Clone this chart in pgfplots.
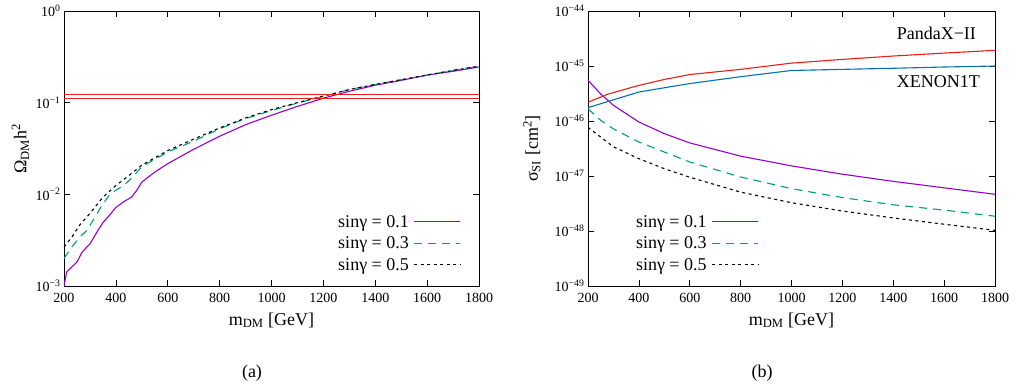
\documentclass[border=0pt]{standalone}
\usepackage{fontspec}
\setmainfont{Liberation Serif}
\usepackage{pgfplots}
\pgfplotsset{compat=1.18}
\definecolor{cpurple}{RGB}{148,0,211}
\definecolor{cgreen}{RGB}{0,158,115}
\definecolor{cred}{RGB}{232,30,25}
\definecolor{cblue}{RGB}{0,114,178}
\pgfplotsset{
  every axis/.append style={
    scale only axis,
    ymode=log, log basis y=10,
    xmin=200, xmax=1800,
    xtick={200,400,...,1800},
    tick label style={font=\fontsize{14}{16}\selectfont},
    label style={font=\fontsize{18}{20}\selectfont},
    /pgf/number format/assume math mode=true,
    /pgf/number format/1000 sep={},
    xticklabel style={yshift=-4pt},
    tick style={black, line width=0.6pt},
    major tick length=6pt, minor tick length=3pt,
    axis line style={line width=0.8pt},
    legend plot pos=right,
    legend cell align=right,
    legend style={draw=none, fill=none, font=\fontsize{18}{20}\selectfont,
      row sep=8pt, inner sep=0pt,
      nodes={inner xsep=5pt, inner ysep=0pt}},
    legend image code/.code={\draw[#1] (3pt,0pt) -- (49pt,0pt);},
  },
}
\begin{document}
\begin{tikzpicture}
\path[use as bounding box] (0pt,0pt) rectangle (1021pt,388pt);
% ---------------- (a) ----------------
\begin{axis}[
  at={(64pt,102pt)}, anchor=south west,
  width=415pt, height=275pt,
  ymin=1e-3, ymax=1,
  ytick={1e-3,1e-2,1e-1,1},
  yticklabels={10\textsuperscript{−3},10\textsuperscript{−2},10\textsuperscript{−1},10\textsuperscript{0}},
  xlabel={m\textsubscript{DM} [GeV]},
  ylabel={Ω\textsubscript{DM}h\textsuperscript{2}},
  xlabel style={at={(axis description cs:0.5,-0.125)}, anchor=center},
  ylabel style={at={(axis description cs:-0.105,0.5)}, anchor=center},
  legend style={at={(axis description cs:0.957,0.155)}, anchor=east},
]
\addplot[cpurple, line width=1.1pt] coordinates {
(200,1.0e-3) (210,1.42e-3) (250,1.83e-3) (270,2.35e-3) (300,2.88e-3) (330,4.0e-3)
(350,4.9e-3) (375,5.9e-3) (400,7.2e-3) (430,8.3e-3) (460,9.3e-3) (480,1.1e-2)
(500,1.36e-2) (550,1.75e-2) (600,2.16e-2) (700,3.1e-2) (800,4.3e-2) (900,5.75e-2)
(1000,7.3e-2) (1100,9.1e-2) (1200,0.112) (1300,0.133) (1400,0.155) (1500,0.175)
(1600,0.2) (1700,0.22) (1800,0.245)};
\addlegendentry{sinγ = 0.1}
\addplot[cgreen, line width=1.1pt, dash pattern=on 8pt off 6pt] coordinates {
(200,2.0e-3) (230,2.66e-3) (260,3.4e-3) (290,4.1e-3) (320,5.7e-3) (350,7.9e-3)
(380,1.02e-2) (420,1.2e-2) (450,1.4e-2) (500,2.0e-2) (600,2.9e-2) (700,3.8e-2)
(800,5.2e-2) (900,6.7e-2) (1000,8.2e-2) (1100,9.9e-2) (1200,0.117) (1300,0.139)
(1400,0.158) (1500,0.178) (1600,0.2) (1700,0.225) (1800,0.25)};
\addlegendentry{sinγ = 0.3}
\addplot[black, line width=1.1pt, dash pattern=on 3pt off 3.5pt] coordinates {
(200,2.66e-3) (230,3.4e-3) (260,4.6e-3) (300,6.2e-3) (350,9.3e-3) (400,1.25e-2)
(450,1.6e-2) (500,2.08e-2) (600,3.0e-2) (700,4.0e-2) (800,5.3e-2) (900,6.8e-2)
(1000,8.4e-2) (1100,0.1) (1200,0.118) (1300,0.139) (1400,0.158) (1500,0.178)
(1600,0.2) (1700,0.225) (1800,0.25)};
\addlegendentry{sinγ = 0.5}
\addplot[cred, line width=1.1pt, forget plot] coordinates {(200,0.124) (1800,0.124)};
\addplot[cred, line width=1.1pt, forget plot] coordinates {(200,0.110) (1800,0.110)};
\end{axis}
% ---------------- (b) ----------------
\begin{axis}[
  at={(588pt,102pt)}, anchor=south west,
  width=407pt, height=275pt,
  ymin=1e-49, ymax=1e-44,
  ytick={1e-49,1e-48,1e-47,1e-46,1e-45,1e-44},
  yticklabels={10\textsuperscript{−49},10\textsuperscript{−48},10\textsuperscript{−47},10\textsuperscript{−46},10\textsuperscript{−45},10\textsuperscript{−44}},
  xlabel={m\textsubscript{DM} [GeV]},
  ylabel={σ\textsubscript{SI} [cm\textsuperscript{2}]},
  xlabel style={at={(axis description cs:0.5,-0.125)}, anchor=center},
  ylabel style={at={(axis description cs:-0.138,0.5)}, anchor=center},
  legend style={at={(axis description cs:0.42,0.155)}, anchor=east},
]
\addplot[cpurple, line width=1.1pt] coordinates {
(200,5.5e-46) (250,3.1e-46) (300,1.93e-46) (400,9.6e-47) (500,5.9e-47) (600,4.0e-47)
(800,2.3e-47) (1000,1.53e-47) (1200,1.08e-47) (1400,8.0e-48) (1600,6.1e-48) (1800,4.66e-48)};
\addlegendentry{sinγ = 0.1}
\addplot[cgreen, line width=1.1pt, dash pattern=on 8pt off 6pt] coordinates {
(200,1.67e-46) (250,1.03e-46) (300,7.2e-47) (400,4.15e-47) (500,2.73e-47) (600,1.8e-47)
(800,9.6e-48) (1000,5.9e-48) (1200,4.05e-48) (1400,3.0e-48) (1600,2.4e-48) (1800,1.86e-48)};
\addlegendentry{sinγ = 0.3}
\addplot[black, line width=1.1pt, dash pattern=on 3pt off 3.5pt] coordinates {
(200,7.7e-47) (250,5.1e-47) (300,3.4e-47) (400,2.07e-47) (500,1.36e-47) (600,9.5e-48)
(800,5.1e-48) (1000,3.27e-48) (1200,2.31e-48) (1400,1.73e-48) (1600,1.33e-48) (1800,1.03e-48)};
\addlegendentry{sinγ = 0.5}
\addplot[cred, line width=1.1pt, forget plot] coordinates {
(200,2.2e-46) (280,3.1e-46) (400,4.45e-46) (500,5.7e-46) (600,7.0e-46) (800,8.7e-46)
(1000,1.13e-45) (1200,1.32e-45) (1400,1.52e-45) (1600,1.72e-45) (1800,1.93e-45)};
\addplot[cblue, line width=1.1pt, forget plot] coordinates {
(200,1.75e-46) (400,3.37e-46) (600,4.8e-46) (800,6.4e-46) (1000,8.3e-46)
(1200,8.7e-46) (1400,9.1e-46) (1600,9.6e-46) (1800,1.0e-45)};
\node[anchor=west, font=\fontsize{18}{20}\selectfont] at (axis cs:1400,3.98e-45) {PandaX−II};
\node[anchor=west, font=\fontsize{18}{20}\selectfont] at (axis cs:1400,5.1e-46) {XENON1T};
\end{axis}
\node[font=\fontsize{18}{20}\selectfont] at (252pt,15pt) {(a)};
\node[font=\fontsize{18}{20}\selectfont] at (762pt,15pt) {(b)};
\end{tikzpicture}
\end{document}
